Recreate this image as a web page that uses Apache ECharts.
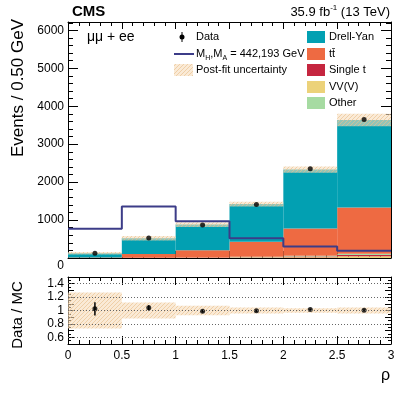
<!DOCTYPE html>
<html>
<head>
<meta charset="utf-8">
<script src="https://cdn.jsdelivr.net/npm/echarts@6/dist/echarts.min.js"></script>
<style>
  html, body { margin: 0; padding: 0; background: #fff; }
  #main { width: 407px; height: 395px; }
</style>
</head>
<body>
<div id="main"></div>
<script>
// bins in rho
var binEdges = [0, 0.5, 1, 1.5, 2, 2.5, 3];
// stacked backgrounds (events / bin)
var drellYan = [112, 412, 675, 990, 1553, 2305];
var ttbar = [10, 100, 190, 400, 720, 1220];
var singleTop = [1, 3, 6, 12, 22, 35];
var diboson = [1, 3, 5, 10, 20, 45];
var other = [1, 2, 4, 8, 15, 30];
var bkgUnc = [34, 62, 62, 64, 82, 164];
var dataCounts = [128, 530, 870, 1412, 2350, 3650];
var signal = [770, 1357, 970, 520, 300, 193];
// ratio panel
var ratio = [1.025, 1.04, 0.99, 0.995, 1.015, 1.005];
var ratioErr = [0.10, 0.04, 0.02, 0.015, 0.01, 0.01];
var ratioUnc = [0.27, 0.12, 0.07, 0.045, 0.035, 0.045];
var ratioGrid = [0.6, 0.8, 1, 1.2, 1.4];

var FONT = "'Liberation Sans', Arial, sans-serif";
var colors = {
  dy: '#02a0b2', tt: '#ee6a42', st: '#c5263f', vv: '#ecd27a', other: '#a6dba2', sig: '#3c3c88'
};

// hatched fill for the uncertainty band
var hatchCanvas = document.createElement('canvas');
hatchCanvas.width = 4; hatchCanvas.height = 4;
var hc = hatchCanvas.getContext('2d');
hc.fillStyle = 'rgba(246,220,186,0.6)';
hc.fillRect(0, 0, 4, 4);
hc.fillStyle = 'rgba(232,192,142,0.65)';
for (var i = 0; i < 4; i++) {
  hc.fillRect(i, 3 - i, 1, 1);
}
var hatch = { image: hatchCanvas, repeat: 'repeat' };

function histBox(params, api) {
  var a = api.coord([api.value(0), api.value(3)]);
  var b = api.coord([api.value(1), api.value(2)]);
  return {
    type: 'rect',
    shape: { x: a[0], y: a[1], width: b[0] - a[0], height: b[1] - a[1] },
    style: api.style()
  };
}
function hatchBox(params, api) {
  var a = api.coord([api.value(0), api.value(3)]);
  var b = api.coord([api.value(1), api.value(2)]);
  return {
    type: 'rect',
    shape: { x: a[0], y: a[1], width: b[0] - a[0], height: b[1] - a[1] },
    style: { fill: hatch }
  };
}
function errBar(params, api) {
  var lo = api.coord([api.value(0), api.value(1) - api.value(2)]);
  var hi = api.coord([api.value(0), api.value(1) + api.value(2)]);
  return {
    type: 'line',
    shape: { x1: lo[0], y1: lo[1], x2: hi[0], y2: hi[1] },
    style: { stroke: '#000', lineWidth: 1.5 }
  };
}

// build stack from the bottom up
var layers = [
  { name: 'VV(V)', vals: diboson, color: colors.vv },
  { name: 'Single t', vals: singleTop, color: colors.st },
  { name: 'Other', vals: other, color: colors.other },
  { name: 'tt', vals: ttbar, color: colors.tt },
  { name: 'Drell-Yan', vals: drellYan, color: colors.dy }
];
var base = [0, 0, 0, 0, 0, 0];
var series = [];
layers.forEach(function (l) {
  var items = [];
  for (var i = 0; i < 6; i++) {
    items.push([binEdges[i], binEdges[i + 1], base[i], base[i] + l.vals[i]]);
    base[i] += l.vals[i];
  }
  series.push({
    type: 'custom', name: l.name, xAxisIndex: 0, yAxisIndex: 0,
    renderItem: histBox, itemStyle: { color: l.color },
    encode: { x: [0, 1], y: [2, 3] }, data: items, z: 2
  });
});
var total = base;

var bandItems = [], centers = [], ratioBand = [];
for (var j = 0; j < 6; j++) {
  bandItems.push([binEdges[j], binEdges[j + 1], total[j] - bkgUnc[j], total[j] + bkgUnc[j]]);
  ratioBand.push([binEdges[j], binEdges[j + 1], 1 - ratioUnc[j], 1 + ratioUnc[j]]);
  centers.push((binEdges[j] + binEdges[j + 1]) / 2);
}

series.push({
  type: 'custom', xAxisIndex: 0, yAxisIndex: 0, renderItem: hatchBox,
  encode: { x: [0, 1], y: [2, 3] }, data: bandItems, z: 3
});
series.push({
  type: 'line', xAxisIndex: 0, yAxisIndex: 0, step: 'end', symbol: 'none',
  lineStyle: { color: colors.sig, width: 2 },
  data: binEdges.map(function (x, i) { return [x, signal[Math.min(i, 5)]]; }), z: 4
});
series.push({
  type: 'scatter', xAxisIndex: 0, yAxisIndex: 0, symbolSize: 5,
  itemStyle: { color: '#000' },
  data: centers.map(function (c, i) { return [c, dataCounts[i]]; }), z: 5
});
// ratio panel
series.push({
  type: 'line', xAxisIndex: 2, yAxisIndex: 2, data: [], z: 1,
  markLine: {
    silent: true, symbol: 'none', label: { show: false },
    lineStyle: { type: [1, 2], color: '#666', width: 1 },
    data: ratioGrid.map(function (v) { return { yAxis: v }; })
  }
});
series.push({
  type: 'custom', xAxisIndex: 2, yAxisIndex: 2, renderItem: hatchBox,
  encode: { x: [0, 1], y: [2, 3] }, data: ratioBand, z: 2
});
series.push({
  type: 'custom', xAxisIndex: 2, yAxisIndex: 2, renderItem: errBar,
  encode: { x: 0, y: 1 },
  data: centers.map(function (c, i) { return [c, ratio[i], ratioErr[i]]; }), z: 3
});
series.push({
  type: 'scatter', xAxisIndex: 2, yAxisIndex: 2, symbolSize: 5,
  itemStyle: { color: '#000' },
  data: centers.map(function (c, i) { return [c, ratio[i]]; }), z: 4
});

function xAx(grid, pos, labels, major, minor) {
  return {
    type: 'value', gridIndex: grid, position: pos, min: 0, max: 3, interval: 0.5,
    axisLine: { onZero: false, lineStyle: { color: '#000', width: 1 } },
    axisTick: { inside: true, length: major, lineStyle: { color: '#000' } },
    minorTick: { show: true, splitNumber: 5, length: minor, lineStyle: { color: '#000' } },
    splitLine: { show: false },
    axisLabel: { show: labels, margin: 6, fontSize: 12, color: '#000', fontFamily: FONT }
  };
}
function yAx(grid, pos, labels, min, max, interval, minorSplit, major, minor, fmt) {
  return {
    type: 'value', gridIndex: grid, position: pos, min: min, max: max, interval: interval,
    axisLine: { show: true, onZero: false, lineStyle: { color: '#000', width: 1 } },
    axisTick: { show: true, inside: true, length: major, lineStyle: { color: '#000' } },
    minorTick: { show: true, splitNumber: minorSplit, length: minor, lineStyle: { color: '#000' } },
    splitLine: { show: false },
    axisLabel: {
      show: labels, margin: 4, fontSize: 12, color: '#000', fontFamily: FONT,
      showMaxLabel: false, formatter: fmt,
      rich: { z: { fontSize: 12, fontFamily: FONT, color: '#000', padding: [16, 0, 0, 0] } }
    }
  };
}

var myChart = echarts.init(document.getElementById('main'));
myChart.setOption({
  animation: false,
  backgroundColor: '#fff',
  grid: [
    { left: 68, top: 22, width: 323, height: 236 },
    { left: 68, top: 277, width: 323, height: 67 }
  ],
  xAxis: [
    xAx(0, 'bottom', false, 7, 4),
    xAx(0, 'top', false, 7, 4),
    xAx(1, 'bottom', true, 8, 4),
    xAx(1, 'top', false, 8, 4)
  ],
  yAxis: [
    yAx(0, 'left', true, 0, 6220, 1000, 5, 10, 5, function (v) { return v === 0 ? '{z|0}' : String(v); }),
    yAx(0, 'right', false, 0, 6220, 1000, 5, 10, 5),
    yAx(1, 'left', true, 0.5, 1.5, 0.1, 2, 6, 3, function (v) {
      var k = Math.round(v * 10);
      return (k % 2 === 0 && k > 5 && k < 15) ? String(k / 10) : '';
    }),
    yAx(1, 'right', false, 0.5, 1.5, 0.1, 2, 6, 3)
  ],
  series: series,
  graphic: [
    { type: 'text', x: 72, y: 12, style: { text: 'CMS', font: 'bold 15px ' + FONT, fill: '#000', verticalAlign: 'middle' } },
    { type: 'text', x: 390, y: 12, style: {
      text: '35.9 fb{sup|-1} (13 TeV)', align: 'right', verticalAlign: 'middle', font: '13px ' + FONT, fill: '#000',
      rich: { sup: { fontSize: 8, fontFamily: FONT, verticalAlign: 'top', padding: [0, 0, 8, 0] } } } },
    { type: 'text', x: 87, y: 37, style: { text: 'μμ + ee', font: '14px ' + FONT, fill: '#000', verticalAlign: 'middle' } },
    // legend, left column
    { type: 'line', shape: { x1: 182, y1: 32, x2: 182, y2: 42 }, style: { stroke: '#000', lineWidth: 1 } },
    { type: 'circle', shape: { cx: 182, cy: 37, r: 2.5 }, style: { fill: '#000' } },
    { type: 'text', x: 196, y: 37, style: { text: 'Data', font: '11px ' + FONT, fill: '#000', verticalAlign: 'middle' } },
    { type: 'line', shape: { x1: 174, y1: 54, x2: 194, y2: 54 }, style: { stroke: colors.sig, lineWidth: 2 } },
    { type: 'text', x: 196, y: 54, style: {
      text: 'M{sub|H},M{sub|A} = 442,193 GeV', font: '11px ' + FONT, fill: '#000', verticalAlign: 'middle',
      rich: { sub: { fontSize: 7, fontFamily: FONT, padding: [8, 0, 0, 0] } } } },
    { type: 'rect', shape: { x: 174, y: 64, width: 19, height: 12 }, style: { fill: hatch } },
    { type: 'text', x: 196, y: 70, style: { text: 'Post-fit uncertainty', font: '11px ' + FONT, fill: '#000', verticalAlign: 'middle' } },
    // legend, right column
    { type: 'rect', shape: { x: 307, y: 31, width: 18, height: 12 }, style: { fill: colors.dy } },
    { type: 'text', x: 329, y: 37, style: { text: 'Drell-Yan', font: '11px ' + FONT, fill: '#000', verticalAlign: 'middle' } },
    { type: 'rect', shape: { x: 307, y: 48, width: 18, height: 12 }, style: { fill: colors.tt } },
    { type: 'text', x: 329, y: 54, style: { text: 'tt\u0304', font: '11px ' + FONT, fill: '#000', verticalAlign: 'middle' } },
    { type: 'rect', shape: { x: 307, y: 64, width: 18, height: 12 }, style: { fill: colors.st } },
    { type: 'text', x: 329, y: 70, style: { text: 'Single t', font: '11px ' + FONT, fill: '#000', verticalAlign: 'middle' } },
    { type: 'rect', shape: { x: 307, y: 81, width: 18, height: 12 }, style: { fill: colors.vv } },
    { type: 'text', x: 329, y: 87, style: { text: 'VV(V)', font: '11px ' + FONT, fill: '#000', verticalAlign: 'middle' } },
    { type: 'rect', shape: { x: 307, y: 97, width: 18, height: 12 }, style: { fill: colors.other } },
    { type: 'text', x: 329, y: 103, style: { text: 'Other', font: '11px ' + FONT, fill: '#000', verticalAlign: 'middle' } },
    // axis titles
    { type: 'text', x: 18, y: 19, rotation: Math.PI / 2, style: { text: 'Events / 0.50 GeV', font: '17px ' + FONT, fill: '#000', align: 'right', verticalAlign: 'middle' } },
    { type: 'text', x: 18, y: 315, rotation: Math.PI / 2, style: { text: 'Data / MC', font: '15px ' + FONT, fill: '#000', align: 'center', verticalAlign: 'middle' } },
    { type: 'text', x: 390, y: 376, style: { text: 'ρ', font: '16px ' + FONT, fill: '#000', align: 'right', verticalAlign: 'middle' } }
  ]
});
</script>
</body>
</html>
